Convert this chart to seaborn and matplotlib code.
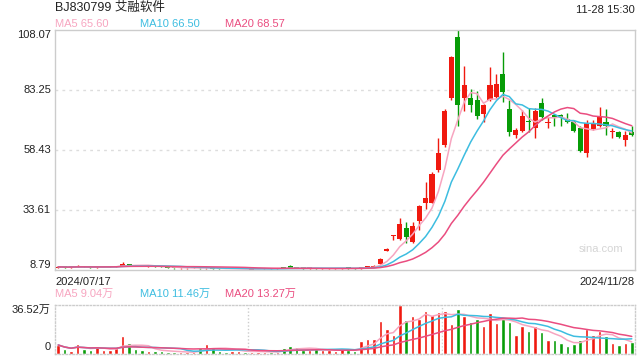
import numpy as np
import pandas as pd
import seaborn as sns
import matplotlib.pyplot as plt
import matplotlib.transforms as mtransforms

# Daily OHLC, 2024/07/17 - 2024/11/28 (90 sessions)
open_ = [9.8, 10.1, 9.9, 10.0, 10.3, 10.1, 9.9, 10.0, 10.0, 10.1,
         10.5, 11.3, 10.9, 10.6, 10.3, 10.5, 10.2, 10.0, 9.7, 9.5,
         9.5, 9.6, 9.8, 9.5, 9.7, 9.4, 9.3, 9.2, 9.2, 9.3,
         8.9, 9.1, 9.3, 9.5, 9.3, 9.7, 10.3, 9.8, 9.6, 9.5,
         9.6, 9.3, 9.3, 9.3, 9.4, 9.6, 9.5, 9.4, 9.9, 10.2,
         11.3, 16.8, 22.8, 21.6, 26.0, 20.5, 29.2, 36.4, 36.6, 50.2,
         60.5, 80.1, 105.0, 80.1, 80.1, 79.1, 73.2, 79.1, 80.5, 89.7,
         75.3, 64.6, 66.3, 70.4, 67.6, 78.0, 69.5, 72.9, 72.9, 71.1,
         70.1, 67.6, 57.3, 67.1, 68.5, 70.1, 65.8, 66.0, 62.6, 66.0]
close = [10.1, 9.9, 10.0, 10.3, 10.1, 9.9, 10.1, 10.1, 10.2, 10.4,
         11.4, 10.9, 10.6, 10.4, 10.5, 10.2, 10.0, 9.7, 9.5, 9.6,
         9.7, 9.8, 9.5, 9.7, 9.4, 9.3, 9.2, 9.3, 9.3, 9.1,
         9.1, 9.3, 9.5, 9.3, 9.6, 9.6, 9.8, 9.6, 9.5, 9.6,
         9.4, 9.4, 9.4, 9.5, 9.6, 9.5, 9.4, 9.9, 10.3, 10.6,
         13.3, 17.6, 23.0, 27.8, 22.6, 27.0, 35.3, 38.7, 48.5, 57.1,
         74.7, 96.8, 77.0, 85.3, 77.0, 72.6, 77.0, 85.3, 85.7, 82.6,
         66.0, 66.7, 72.5, 69.9, 74.7, 72.0, 69.9, 72.2, 72.0, 69.9,
         66.3, 58.1, 69.7, 69.5, 72.2, 68.5, 66.1, 63.7, 64.6, 64.6]
high = [10.3, 10.2, 10.1, 11.0, 10.4, 10.2, 10.6, 10.2, 10.3, 10.5,
        12.0, 11.4, 11.0, 10.7, 10.6, 10.5, 10.3, 10.0, 9.8, 9.7,
        9.8, 9.9, 9.8, 9.8, 9.7, 9.5, 9.4, 9.4, 9.4, 9.3,
        9.2, 9.4, 9.6, 9.5, 9.7, 9.9, 10.9, 9.9, 9.7, 9.7,
        9.6, 9.5, 9.5, 9.6, 9.7, 9.7, 9.6, 10.0, 10.5, 10.8,
        13.9, 17.8, 23.1, 30.2, 28.5, 28.8, 35.7, 45.2, 49.2, 63.3,
        75.2, 97.4, 108.07, 93.2, 83.5, 82.8, 77.5, 92.6, 89.9, 98.8,
        79.1, 67.5, 75.0, 75.7, 75.6, 80.1, 72.1, 73.3, 73.2, 73.6,
        70.8, 68.4, 70.8, 70.8, 76.3, 75.3, 67.5, 66.3, 66.3, 68.5]
low = [9.7, 9.8, 9.8, 9.9, 10.0, 9.8, 9.8, 9.9, 9.9, 10.0,
       10.4, 10.7, 10.5, 10.3, 10.2, 10.1, 9.9, 9.6, 9.4, 9.4,
       9.4, 9.5, 9.4, 9.4, 9.3, 9.2, 9.1, 9.1, 9.1, 9.0,
       8.79, 9.0, 9.2, 9.2, 9.2, 9.5, 9.7, 9.5, 9.4, 9.4,
       9.3, 9.2, 9.2, 9.2, 9.3, 9.4, 9.3, 9.3, 9.8, 10.1,
       11.2, 16.5, 21.2, 21.2, 20.1, 20.1, 25.3, 33.9, 36.3, 49.5,
       59.8, 79.1, 68.4, 74.6, 74.0, 71.2, 70.1, 78.5, 79.8, 78.2,
       64.2, 63.3, 65.9, 66.0, 63.3, 70.8, 67.4, 68.4, 68.5, 69.6,
       65.9, 57.6, 55.7, 66.7, 68.0, 64.6, 63.4, 63.4, 60.2, 64.2]
# volume in 万
volume = [6.7, 3.7, 2.5, 7.5, 3.7, 3.0, 5.2, 3.0, 3.0, 4.4,
          13.4, 8.2, 3.7, 3.0, 2.5, 2.5, 2.5, 1.5, 1.2, 1.2,
          1.2, 1.7, 4.5, 7.6, 5.2, 2.5, 1.7, 2.5, 2.5, 1.7,
          1.2, 1.7, 1.7, 1.7, 1.7, 4.5, 6.0, 5.2, 3.0, 3.0,
          3.4, 3.0, 3.0, 2.5, 3.4, 3.0, 2.5, 9.7, 11.2, 11.2,
          24.6, 18.6, 14.2, 36.52, 25.3, 28.3, 26.0, 32.0, 29.0, 31.3,
          32.0, 22.5, 33.6, 28.4, 23.9, 26.2, 21.0, 30.6, 23.2, 27.4,
          24.2, 14.3, 20.5, 17.5, 21.2, 16.5, 10.1, 10.1, 8.4, 6.2,
          7.6, 10.1, 18.8, 14.3, 17.3, 13.5, 8.0, 6.5, 8.5, 8.7]

price_ticks = [8.79, 33.61, 58.43, 83.25, 108.07]
price_labels = ["8.79", "33.61", "58.43", "83.25", "108.07"]
ma_labels = ["MA5 65.60", "MA10 66.50", "MA20 68.57"]
vol_ma_labels = ["MA5 9.04万", "MA10 11.46万", "MA20 13.27万"]
title = "BJ830799 艾融软件"
stamp = "11-28 15:30"
first_date, last_date = "2024/07/17", "2024/11/28"

RED = "#f0190f"
GREEN = "#079c07"
MA_COLORS = ["#f7a5c0", "#3dbde0", "#ea4d80"]
TXT = "#222222"
FRAME = "#cccccc"

sns.set_theme(style="white")
plt.rcParams['font.family'] = ['Liberation Sans', 'Noto Sans CJK SC', 'DejaVu Sans']

df = pd.DataFrame({"open": open_, "close": close, "high": high,
                   "low": low, "vol": volume})
df["x"] = np.arange(len(df))
df["dir"] = np.where(df["close"] >= df["open"], "up", "down")
colors = np.where(df["dir"] == "up", RED, GREEN)

fig = plt.figure(figsize=(6.4, 3.6), dpi=100)
ax = fig.add_axes([55 / 640, 90 / 360, 580 / 640, 240 / 360])
axv = fig.add_axes([55 / 640, 6 / 360, 580 / 640, 49 / 360])

# candles
ax.vlines(df["x"], df["low"], df["high"], colors=colors, lw=1, zorder=2)
body = np.maximum((df["close"] - df["open"]).abs(), 0.35)
ax.bar(df["x"], body, bottom=np.minimum(df["open"], df["close"]),
       width=0.78, color=colors, linewidth=0, zorder=3)

for n, col in zip([5, 10, 20], MA_COLORS):
    df[f"ma{n}"] = df["close"].rolling(n, min_periods=1).mean()
    sns.lineplot(data=df, x="x", y=f"ma{n}", color=col, lw=1.1, ax=ax, zorder=4)

ax.set_xlim(-0.5, len(df) - 0.5)
ax.set_ylim(price_ticks[0], price_ticks[-1])
for v in price_ticks[1:-1]:
    ax.axhline(v, color="#dddddd", lw=1, ls=(0, (2, 3)), zorder=0)
ax.set_xticks([])
ax.set_yticks([])
ax.set_xlabel("")
ax.set_ylabel("")
for s in ax.spines.values():
    s.set_color(FRAME)
    s.set_linewidth(1)

trans = mtransforms.blended_transform_factory(ax.transAxes, ax.transData)
for i, (v, lab) in enumerate(zip(price_ticks, price_labels)):
    va = "bottom" if i == 0 else ("top" if i == len(price_ticks) - 1 else "center")
    ax.text(-4 / 580, v, lab, transform=trans, ha="right", va=va,
            fontsize=8, color=TXT)

ax.text(568 / 580, 20.5 / 240, "sina.com", transform=ax.transAxes,
        ha="right", va="center", fontsize=8, color="#d5d5d5")

# volume
sns.barplot(data=df, x="x", y="vol", hue="dir",
            palette={"up": RED, "down": GREEN}, dodge=False, width=0.55,
            saturation=1, errorbar=None, legend=False, native_scale=True,
            ax=axv, zorder=2)
for n, col in zip([5, 10, 20], MA_COLORS):
    df[f"vma{n}"] = df["vol"].rolling(n, min_periods=1).mean()
    sns.lineplot(data=df, x="x", y=f"vma{n}", color=col, lw=1.1, ax=axv, zorder=4)

axv.set_xlim(-0.5, len(df) - 0.5)
axv.set_ylim(0, max(volume))
axv.set_xticks([])
axv.set_yticks([])
axv.set_xlabel("")
axv.set_ylabel("")
for s in axv.spines.values():
    s.set_color(FRAME)
    s.set_linewidth(1)
    s.set_linestyle((0, (1, 1.5)))
for xv in [len(df) / 3 - 0.5, 2 * len(df) / 3 - 0.5]:
    axv.axvline(xv, color=FRAME, lw=1, ls=(0, (1, 1.5)), zorder=0)
axv.text(-4 / 580, 1, f"{max(volume):.2f}万", transform=axv.transAxes,
         ha="right", va="top", fontsize=8, color=TXT)
axv.text(-4 / 580, 0.04, "0", transform=axv.transAxes,
         ha="right", va="bottom", fontsize=8, color=TXT)

# header texts
fig.text(55 / 640, 1 - 8 / 360, title, ha="left", va="center", fontsize=9, color=TXT)
fig.text(635 / 640, 1 - 10 / 360, stamp, ha="right", va="center", fontsize=8, color=TXT)
for xp, lab, col in zip([55, 140, 225], ma_labels, MA_COLORS):
    fig.text(xp / 640, 1 - 24 / 360, lab, ha="left", va="center", fontsize=8, color=col)
for xp, lab, col in zip([55, 140, 225], vol_ma_labels, MA_COLORS):
    fig.text(xp / 640, 1 - 294 / 360, lab, ha="left", va="center", fontsize=8, color=col)
fig.text(55 / 640, 1 - 282 / 360, first_date, ha="left", va="center", fontsize=8, color=TXT)
fig.text(635 / 640, 1 - 282 / 360, last_date, ha="right", va="center", fontsize=8, color=TXT)

fig.savefig("out.png", dpi=100)
